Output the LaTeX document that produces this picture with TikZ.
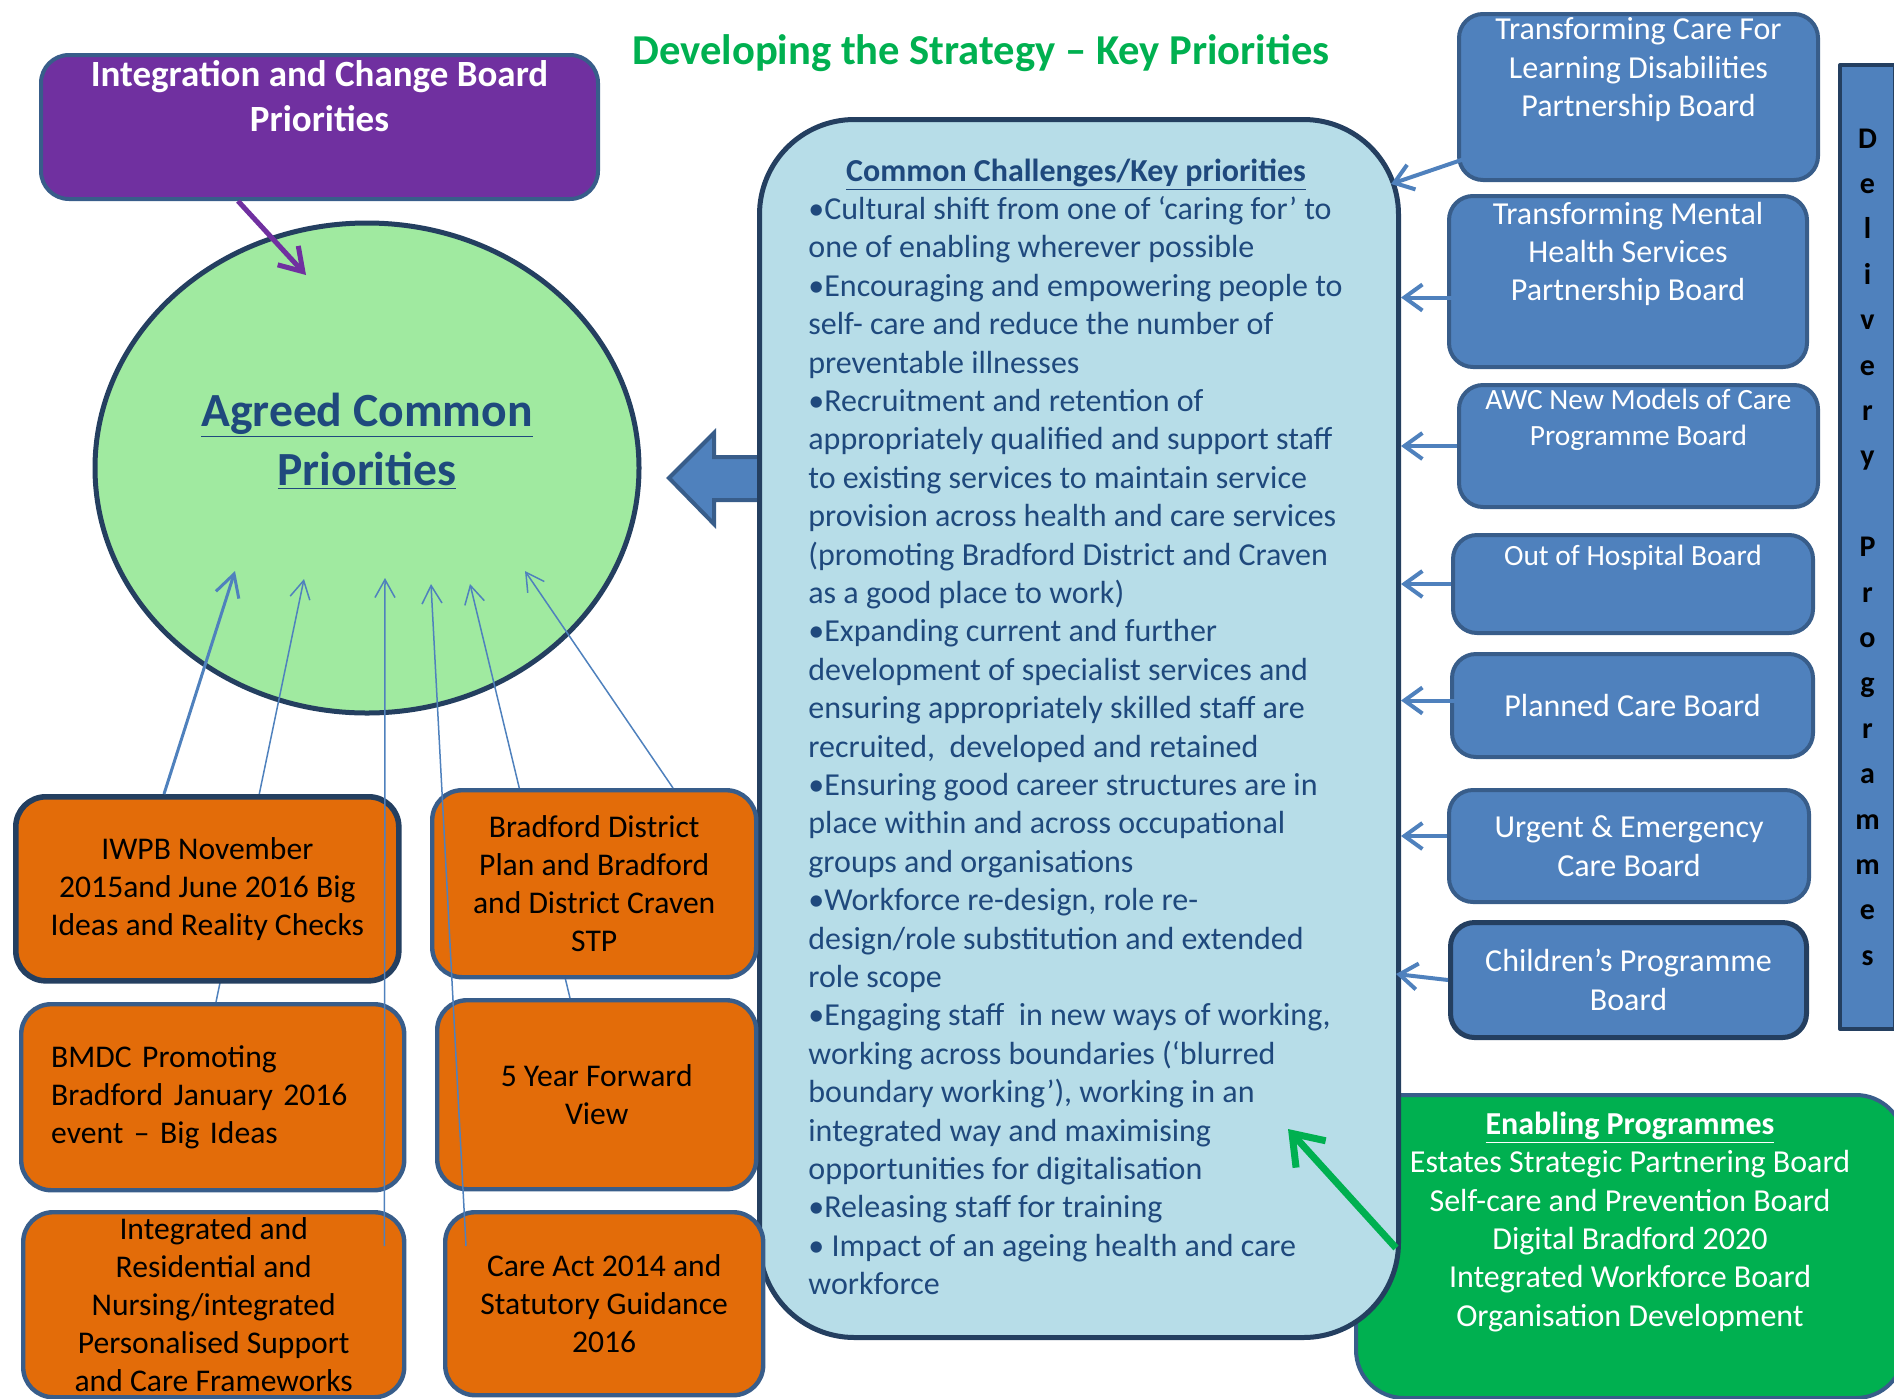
\documentclass[tikz,border=0pt]{standalone}
\usepackage{fontspec}
\setmainfont{Carlito}
\usetikzlibrary{positioning,shapes.geometric,arrows.meta}
\definecolor{bblue}{HTML}{4F81BD}
\definecolor{bdark}{HTML}{385D8A}
\definecolor{navy}{HTML}{243F60}
\definecolor{purp}{HTML}{7030A0}
\definecolor{lgreen}{HTML}{A0EAA0}
\definecolor{lblue}{HTML}{B7DDE8}
\definecolor{tblue}{HTML}{1F497D}
\definecolor{orng}{HTML}{E36C09}
\definecolor{egreen}{HTML}{00B050}
\newcommand{\bodyfont}{\fontsize{16pt}{19.2pt}\selectfont}
\newcommand{\srcfont}{\fontsize{15.8pt}{19pt}\selectfont}
\newcommand{\smallboard}{\fontsize{14.7pt}{18pt}\selectfont}

\begin{document}
\begin{tikzpicture}[x=0.5pt,y=-0.5pt,line join=round,
  >={Straight Barb[length=9pt,width=13pt]},
  board/.style={draw=bdark,fill=bblue,line width=2pt,rounded corners=12pt,anchor=north west,inner sep=0pt,text=white,align=center,font=\bodyfont},
  src/.style={draw=bdark,fill=orng,line width=2.2pt,rounded corners=15pt,anchor=north west,inner sep=0pt,align=center,font=\srcfont},
  lbl/.style={inner sep=0pt,align=center,font=\bodyfont},
  feed/.style={->,draw=bblue,line width=0.75pt,>={Straight Barb[length=9pt,width=10pt]}},
  link/.style={->,draw=bblue,line width=2pt}]
  \useasboundingbox (0,0) rectangle (1894,1398);
  \clip (0,0) rectangle (1894,1398);

  % enabling programmes (behind the challenges box)
  \node[draw=bdark,fill=egreen,line width=2pt,rounded corners=24pt,anchor=north west,
        minimum width=274pt,minimum height=151.5pt] (enp) at (1354,1093) {};
  \node[lbl,text=white,below=9.25pt of enp.north] (enptext)
       {\textbf{\underline{Enabling Programmes}}\\Estates Strategic Partnering Board\\Self-care and Prevention Board\\Digital Bradford 2020\\Integrated Workforce Board\\Organisation Development};

  % block arrow towards the priorities
  \draw[draw=bdark,fill=bblue,line width=2pt,line join=miter]
       (757,457) -- (714,457) -- (714,433) -- (669,478) -- (714,524) -- (714,500) -- (757,500);

  % common challenges
  \node[draw=navy,fill=lblue,line width=2.5pt,rounded corners=47.5pt,anchor=north west,
        minimum width=319.5pt,minimum height=609pt] (ccb) at (757,117) {};
  \node[lbl,text=tblue,font=\bodyfont\bfseries] (cchead) at (1076,175)
       {\underline{Common Challenges/Key priorities}};
  \node[lbl,text=tblue,align=left,anchor=north west] (ccbody) at (808,196)
       {•Cultural shift from one of ‘caring for’ to\\
        one of enabling wherever possible\\
        •Encouraging and empowering people to\\
        self- care and reduce the number of\\
        preventable illnesses\\
        •Recruitment and retention of\\
        appropriately qualified and support staff\\
        to existing services to maintain service\\
        provision across health and care services\\
        (promoting Bradford District and Craven\\
        as a good place to work)\\
        •Expanding current and further\\
        development of specialist services and\\
        ensuring appropriately skilled staff are\\
        recruited,\ \ developed and retained\\
        •Ensuring good career structures are in\\
        place within and across occupational\\
        groups and organisations\\
        •Workforce re-design, role re-\\
        design/role substitution and extended\\
        role scope\\
        •Engaging staff\ \ in new ways of working,\\
        working across boundaries (‘blurred\\
        boundary working’), working in an\\
        integrated way and maximising\\
        opportunities for digitalisation\\
        •Releasing staff for training\\
        • Impact of an ageing health and care\\
        workforce};

  \coordinate (gtail) at (1396,1248);
  \coordinate (ghead) at (1288,1129);
  \draw[->,draw=egreen,line width=3.5pt,>={Straight Barb[length=14pt,width=20pt]}] (gtail) -- (ghead);

  % agreed common priorities
  \node[ellipse,draw=navy,fill=lgreen,line width=2.5pt,inner sep=0pt,
        minimum width=272pt,minimum height=245pt] (acp) at (367,468) {};
  \node[lbl,text=tblue,font=\fontsize{23.8pt}{29.5pt}\selectfont\bfseries] (acptext) at (367,441)
       {\underline{Agreed Common}\\\underline{Priorities}};
  \coordinate (t1) at (235,571);
  \coordinate (t2) at (304,579);
  \coordinate (t3) at (385,578);
  \coordinate (t4) at (431,584);
  \coordinate (t5) at (470,584);
  \coordinate (t6) at (525,571);

  % sources
  \node[src,align=left,inner xsep=15pt,text width=161.5pt,minimum height=93pt] (bmdc) at (19,1002)
       {BMDC Promoting\\Bradford January 2016\\event – Big Ideas};
  \node[src,minimum width=159.5pt,minimum height=94.5pt] (fyfv) at (435,998) {5 Year Forward\\View};
  \draw[feed] ([xshift=98.5pt]bmdc.north west) -- (t2);
  \draw[feed] ([xshift=67.5pt]fyfv.north west) -- (t5);
  \node[src,draw=navy,line width=2.8pt,minimum width=191.5pt,minimum height=92pt] (iwpb) at (13,794)
       {IWPB November\\2015and June 2016 Big\\Ideas and Reality Checks};
  \node[src,minimum width=162pt,minimum height=93.5pt] (bdp) at (430,788)
       {Bradford District\\Plan and Bradford\\and District Craven\\STP};
  \node[src,minimum width=190.5pt,minimum height=92.5pt] (irn) at (21,1210)
       {Integrated and\\Residential and\\Nursing/integrated\\Personalised Support\\and Care Frameworks};
  \node[src,minimum width=159pt,minimum height=91.5pt] (cact) at (443,1210)
       {Care Act 2014 and\\Statutory Guidance\\2016};
  \draw[feed,line width=1.5pt,>={Straight Barb[length=11pt,width=12pt]}] ([xshift=75.5pt]iwpb.north west) -- (t1);
  \draw[feed] ([xshift=-11pt,yshift=-18pt]irn.north east) -- (t3);
  \draw[feed] ([xshift=11.5pt,yshift=-18pt]cact.north west) -- (t4);
  \draw[feed] ([xshift=121.5pt]bdp.north west) -- (t6);

  % integration and change board
  \node[draw=bdark,fill=purp,line width=2pt,rounded corners=14pt,anchor=north west,
        minimum width=278.5pt,minimum height=72pt] (icb) at (39,53) {};
  \node[lbl,text=white,font=\fontsize{18.5pt}{22.5pt}\selectfont\bfseries,below=3.7pt of icb.north] (icbtext)
       {Integration and Change Board\\Priorities};
  \coordinate (t0) at (306,275);
  \draw[->,draw=purp,line width=2.5pt,>={Straight Barb[length=11pt,width=14pt]}] ([xshift=99.5pt]icb.south west) -- (t0);

  % delivery programme boards
  \node[board,minimum width=179.5pt,minimum height=83pt] (tcld) at (1457,12) {};
  \node[lbl,text=white,below=2.75pt of tcld.north] (tcldtext) {Transforming Care For\\Learning Disabilities\\Partnership Board};
  \node[board,minimum width=179pt,minimum height=85.5pt] (tmhs) at (1447,194) {};
  \node[lbl,text=white,below=3.75pt of tmhs.north] (tmhstext) {Transforming Mental\\Health Services\\Partnership Board};
  \node[board,minimum width=179.5pt,minimum height=61pt] (awc) at (1457,383) {};
  \node[lbl,text=white,font=\smallboard,below=3pt of awc.north] (awctext) {AWC New Models of Care\\Programme Board};
  \node[board,minimum width=180pt,minimum height=49pt] (ooh) at (1451,533) {};
  \node[lbl,text=white,font=\smallboard,below=5.75pt of ooh.north] (oohtext) {Out of Hospital Board};
  \node[board,minimum width=180.5pt,minimum height=51.5pt] (pcb) at (1450,652) {Planned Care Board};
  \node[board,minimum width=180pt,minimum height=56pt] (uec) at (1447,788) {Urgent \& Emergency\\Care Board};
  \node[board,draw=navy,line width=2.5pt,minimum width=178pt,minimum height=57.5pt] (cpb) at (1448,920) {Children’s Programme\\Board};

  \coordinate (b1t) at ([xshift=34.5pt,yshift=22pt]tcld.south west);
  \coordinate (b1h) at (1391,184);
  \draw[link] (b1t) -- (b1h);
  \coordinate (b2t) at ([xshift=15.5pt,yshift=-8pt]tmhs.west);
  \draw[link] (b2t) -- (b2t -| ccb.east);
  \draw[link] (awc.west) -- (awc.west -| ccb.east);
  \draw[link] (ooh.west) -- (ooh.west -| ccb.east);
  \coordinate (b5t) at ([xshift=8pt,yshift=2.5pt]pcb.west);
  \draw[link] (b5t) -- (b5t -| ccb.east);
  \coordinate (b6t) at ([yshift=5pt]uec.west);
  \draw[link] (b6t) -- (b6t -| ccb.east);
  \coordinate (b7h) at (1396,974);
  \draw[link] (cpb.west) -- (b7h);

  \node[draw=navy,fill=bblue,line width=2pt,anchor=north west,inner sep=0pt,align=center,
        minimum width=27.5pt,minimum height=482pt,font=\fontsize{15pt}{22.7pt}\selectfont\bfseries] (dlv) at (1838,63)
       {D\\e\\l\\i\\v\\e\\r\\y\\[22.7pt]P\\r\\o\\g\\r\\a\\m\\m\\e\\s};

  \node[text=egreen,inner sep=0pt,font=\fontsize{21.3pt}{25pt}\selectfont\bfseries] (title) at (981,53)
       {Developing the Strategy – Key Priorities};
\end{tikzpicture}
\end{document}
